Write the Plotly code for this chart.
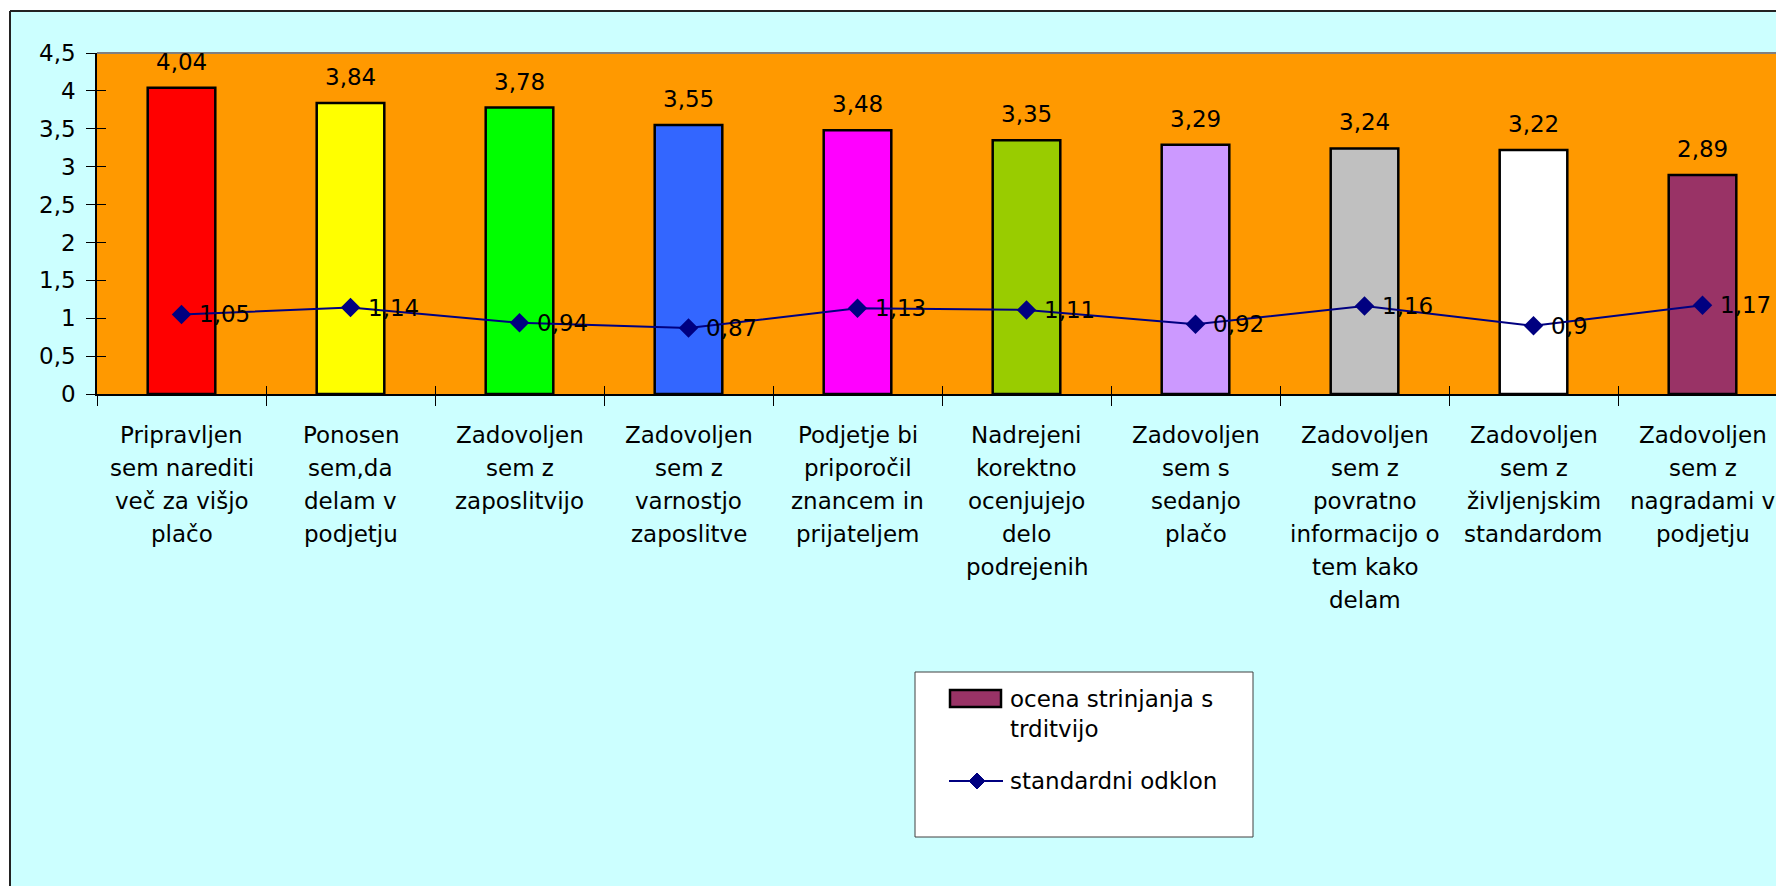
import plotly.graph_objects as go

# Survey statements (x categories), one list of text lines per label
labels = [
    ["Pripravljen", "sem narediti", "več za višjo", "plačo"],
    ["Ponosen", "sem,da", "delam v", "podjetju"],
    ["Zadovoljen", "sem z", "zaposlitvijo"],
    ["Zadovoljen", "sem z", "varnostjo", "zaposlitve"],
    ["Podjetje bi", "priporočil", "znancem in", "prijateljem"],
    ["Nadrejeni", "korektno", "ocenjujejo", "delo", "podrejenih"],
    ["Zadovoljen", "sem s", "sedanjo", "plačo"],
    ["Zadovoljen", "sem z", "povratno", "informacijo o", "tem kako", "delam"],
    ["Zadovoljen", "sem z", "življenjskim", "standardom"],
    ["Zadovoljen", "sem z", "nagradami v", "podjetju"],
]
agreement = [4.04, 3.84, 3.78, 3.55, 3.48, 3.35, 3.29, 3.24, 3.22, 2.89]
std_dev = [1.05, 1.14, 0.94, 0.87, 1.13, 1.11, 0.92, 1.16, 0.9, 1.17]
bar_colors = ["#FF0000", "#FFFF00", "#00FF00", "#3366FF", "#FF00FF",
              "#99CC00", "#CC99FF", "#C0C0C0", "#FFFFFF", "#993366"]
series_names = ["ocena strinjanja s<br>trditvijo", "standardni odklon"]
y_ticks = [0, 0.5, 1, 1.5, 2, 2.5, 3, 3.5, 4, 4.5]

W, H = 1776, 886
L, T, B = 97, 53, 394          # plot area left / top / bottom in pixels
PW, PH = W - L, B - T
CAT_W = 169                    # pixel width of one category
FONT = "DejaVu Sans"
FS = 23
NAVY = "#000080"


def fmt(v):
    return f"{v:g}".replace(".", ",")


def px(x):
    return (x - L) / PW


def py(y):
    return (B - y) / PH


xs = list(range(len(agreement)))
x_max = -0.5 + PW / CAT_W
bounds = [i - 0.5 for i in range(len(agreement) + 1)]

fig = go.Figure()
fig.add_trace(go.Bar(
    x=xs, y=agreement, marker=dict(color=bar_colors, line=dict(color="black", width=2.5)),
    width=0.4, showlegend=False, hoverinfo="skip",
))
fig.add_trace(go.Scatter(
    x=xs, y=std_dev, mode="lines+markers",
    line=dict(color=NAVY, width=2),
    marker=dict(symbol="diamond", size=15, color=NAVY),
    showlegend=False, hoverinfo="skip",
))
# empty trace so the overlay axes (inner halves of the cross ticks) exist
fig.add_trace(go.Scatter(x=[], y=[], xaxis="x2", yaxis="y2", showlegend=False))

ann = []
for i, v in enumerate(agreement):
    ann.append(dict(x=i, y=v, xref="x", yref="y", text=fmt(v), showarrow=False,
                    yanchor="middle", yshift=26, font=dict(family=FONT, size=FS, color="black")))
for i, v in enumerate(std_dev):
    ann.append(dict(x=i, y=v, xref="x", yref="y", text=fmt(v), showarrow=False,
                    xanchor="left", yanchor="middle", xshift=15,
                    font=dict(family=FONT, size=FS, color="black")))
for i, lines in enumerate(labels):
    for j, line in enumerate(lines):
        ann.append(dict(x=i, y=py(435 + 33 * j), xref="x", yref="paper", text=line,
                        showarrow=False, yanchor="middle",
                        font=dict(family=FONT, size=FS, color="black")))

# legend
ann.append(dict(x=px(1008), y=py(714), xref="paper", yref="paper", text=series_names[0],
                showarrow=False, xanchor="left", yanchor="middle", align="left",
                font=dict(family=FONT, size=FS, color="black")))
ann.append(dict(x=px(1008), y=py(781), xref="paper", yref="paper", text=series_names[1],
                showarrow=False, xanchor="left", yanchor="middle", align="left",
                font=dict(family=FONT, size=FS, color="black")))

shapes = [
    # white page strip left/top, then the chart border
    dict(type="rect", xref="paper", yref="paper", x0=px(0), x1=px(10), y0=py(H + 5), y1=py(-5),
         fillcolor="white", line=dict(width=0)),
    dict(type="rect", xref="paper", yref="paper", x0=px(0), x1=px(W + 5), y0=py(11), y1=py(-5),
         fillcolor="white", line=dict(width=0)),
    dict(type="line", xref="paper", yref="paper", x0=px(10), x1=px(10), y0=py(11), y1=py(H + 5),
         line=dict(color="#222222", width=2)),
    dict(type="line", xref="paper", yref="paper", x0=px(10), x1=px(W + 5), y0=py(11), y1=py(11),
         line=dict(color="#222222", width=2)),
    # plot area top edge
    dict(type="line", xref="paper", yref="paper", x0=0, x1=1, y0=1, y1=1,
         line=dict(color="#808080", width=2)),
    # legend box
    dict(type="rect", xref="paper", yref="paper", x0=px(915), x1=px(1253), y0=py(837), y1=py(672),
         fillcolor="white", line=dict(color="#404040", width=1)),
    dict(type="rect", xref="paper", yref="paper", x0=px(950), x1=px(1001), y0=py(707), y1=py(690),
         fillcolor=bar_colors[-1], line=dict(color="black", width=2.5)),
    dict(type="line", xref="paper", yref="paper", x0=px(949), x1=px(1003), y0=py(781), y1=py(781),
         line=dict(color=NAVY, width=2)),
    dict(type="path", xref="paper", yref="paper",
         path=f"M {px(977)},{py(773)} L {px(985)},{py(781)} L {px(977)},{py(789)} L {px(969)},{py(781)} Z",
         fillcolor=NAVY, line=dict(color=NAVY, width=1)),
]

tick_font = dict(family=FONT, size=FS, color="black")
fig.update_layout(
    width=W, height=H,
    margin=dict(l=L, r=0, t=T, b=H - B, pad=0),
    paper_bgcolor="#CCFFFF", plot_bgcolor="#FF9900",
    separators=",.",
    font=dict(family=FONT, size=FS, color="black"),
    xaxis=dict(range=[-0.5, x_max], tickmode="array", tickvals=bounds, showticklabels=False,
               ticks="outside", ticklen=10, tickwidth=1, tickcolor="black",
               showline=True, linecolor="black", linewidth=1.5, showgrid=False, zeroline=False),
    xaxis2=dict(range=[-0.5, x_max], overlaying="x", anchor="y", side="bottom",
                tickmode="array", tickvals=bounds, showticklabels=False,
                ticks="inside", ticklen=8, tickwidth=1, tickcolor="black",
                showline=False, showgrid=False, zeroline=False),
    yaxis=dict(range=[0, 4.5], tickmode="array", tickvals=y_ticks,
               ticktext=[fmt(v) for v in y_ticks], tickfont=tick_font,
               ticks="outside", ticklen=9, tickwidth=1, tickcolor="black", ticklabelstandoff=6,
               showline=True, linecolor="black", linewidth=1.5, showgrid=False, zeroline=False),
    yaxis2=dict(range=[0, 4.5], overlaying="y", anchor="x", side="left",
                tickmode="array", tickvals=y_ticks, showticklabels=False,
                ticks="inside", ticklen=9, tickwidth=1, tickcolor="black",
                showline=False, showgrid=False, zeroline=False),
    annotations=ann,
    shapes=shapes,
    showlegend=False,
)

fig.write_html("out.html")
